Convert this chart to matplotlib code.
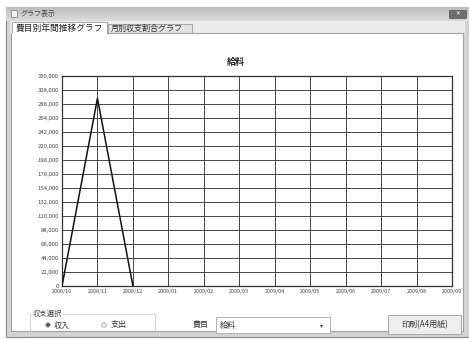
import numpy as np
import matplotlib.pyplot as plt
from matplotlib.patches import Rectangle, Circle

plt.rcParams['font.family'] = ['Noto Sans CJK JP', 'DejaVu Sans']

# monthly totals for the selected item
months = ['2008/10', '2008/11', '2008/12', '2009/01', '2009/02', '2009/03',
          '2009/04', '2009/05', '2009/06', '2009/07', '2009/08', '2009/09']
amounts = [0, 295000, 0]
yticks = list(range(0, 330001, 22000))
item = '給料'

W, H = 469, 339
fig = plt.figure(figsize=(W / 100, H / 100), dpi=100)
fig.patch.set_facecolor('white')

# window chrome drawn in pixel coordinates
ui = fig.add_axes([0, 0, 1, 1])
ui.set_xlim(0, W)
ui.set_ylim(H, 0)
ui.axis('off')

def box(x0, y0, x1, y1, fc, ec='none', lw=0.8, z=1):
    ui.add_patch(Rectangle((x0, y0), x1 - x0, y1 - y0, facecolor=fc,
                           edgecolor=ec, linewidth=lw, zorder=z))

box(6, 7, 469, 337, '#d4d4d4', '#8a8a8a')
# title bar gradient
grad = np.linspace(0.74, 0.86, 20).reshape(-1, 1)
ui.imshow(grad, extent=(6, 469, 21, 7), cmap='gray', vmin=0, vmax=1,
          aspect='auto', zorder=2)
box(11, 10, 17, 17, '#f0f0f0', '#777777', 0.5, 3)
ui.text(21, 14, 'グラフ表示', fontsize=5, color='#444444', va='center', zorder=3)
box(449, 10, 466, 18, '#6e6e6e', '#555555', 0.5, 3)
ui.text(457.5, 14, '✕', fontsize=4, color='white', ha='center', va='center', zorder=4)

# tab strip
box(10, 21, 465, 33, '#ececec', z=2)
box(108, 24, 192, 33, '#e2e2e2', '#9a9a9a', 0.6, 3)
ui.text(111, 28.5, '月別収支割合グラフ', fontsize=5.8, color='#333333',
        va='center', zorder=4)
box(11, 33, 463, 331, 'white', '#a0a0a0', 0.8, 3)
box(12, 22, 107, 34, 'white', '#9a9a9a', 0.6, 4)
box(12.4, 32.5, 106.6, 34.5, 'white', z=5)
ui.text(15, 28, '費目別年間推移グラフ', fontsize=6.3, color='#222222',
        va='center', zorder=6)

# chart title
ui.text(236, 62, item, fontsize=6.5, fontweight='bold', color='#222222',
        ha='center', va='center', zorder=6)

# bottom controls
box(30, 314, 155, 336, 'none', '#c8c8c8', 0.6, 6)
ui.text(33, 314, '収支選択', fontsize=5.3, color='#444444', va='center',
        zorder=7, bbox=dict(facecolor='white', edgecolor='none', pad=0.6))
ui.add_patch(Circle((48, 325), 2.2, facecolor='#555555', edgecolor='#999999',
                    linewidth=0.5, zorder=7))
ui.text(54, 325, '収入', fontsize=5.8, color='#333333', va='center', zorder=7)
ui.add_patch(Circle((104, 325), 2.2, facecolor='white', edgecolor='#999999',
                    linewidth=0.6, zorder=7))
ui.text(111, 325, '支出', fontsize=5.8, color='#333333', va='center', zorder=7)
ui.text(193, 325, '費目', fontsize=5.8, color='#333333', va='center', zorder=7)
box(216, 317, 330, 333, 'white', '#b0b0b0', 0.7, 6)
ui.text(220, 325, item, fontsize=5.8, color='#333333', va='center', zorder=7)
ui.text(322, 325, '▾', fontsize=4.5, color='#444444', ha='center',
        va='center', zorder=7)
box(388, 315, 461, 334, '#eeeeee', '#a8a8a8', 0.7, 6)
ui.text(424.5, 324.5, '印刷(A4用紙)', fontsize=5.8, color='#333333',
        ha='center', va='center', zorder=7)

# line chart
left, right, top, bottom = 62, 452, 76, 286
ax = fig.add_axes([left / W, 1 - bottom / H, (right - left) / W, (bottom - top) / H])
ax.set_zorder(10)
ax.set_facecolor('white')
x = np.arange(len(months))
ax.plot(x[:len(amounts)], amounts, color='#111111', linewidth=1.1, zorder=5)
ax.set_xlim(0, len(months) - 1)
ax.set_ylim(0, 330000)
ax.set_xticks(x)
ax.set_xticklabels(months)
ax.set_yticks(yticks)
ax.set_yticklabels([f'{v:,}' for v in yticks])
ax.grid(True, color='#444444', linewidth=0.7)
ax.tick_params(length=0, colors='#444444', pad=2)
ax.tick_params(axis='y', labelsize=4.3)
ax.tick_params(axis='x', labelsize=3.9)
for s in ax.spines.values():
    s.set_color('#333333')
    s.set_linewidth(0.9)

fig.savefig('out.png', dpi=100)
